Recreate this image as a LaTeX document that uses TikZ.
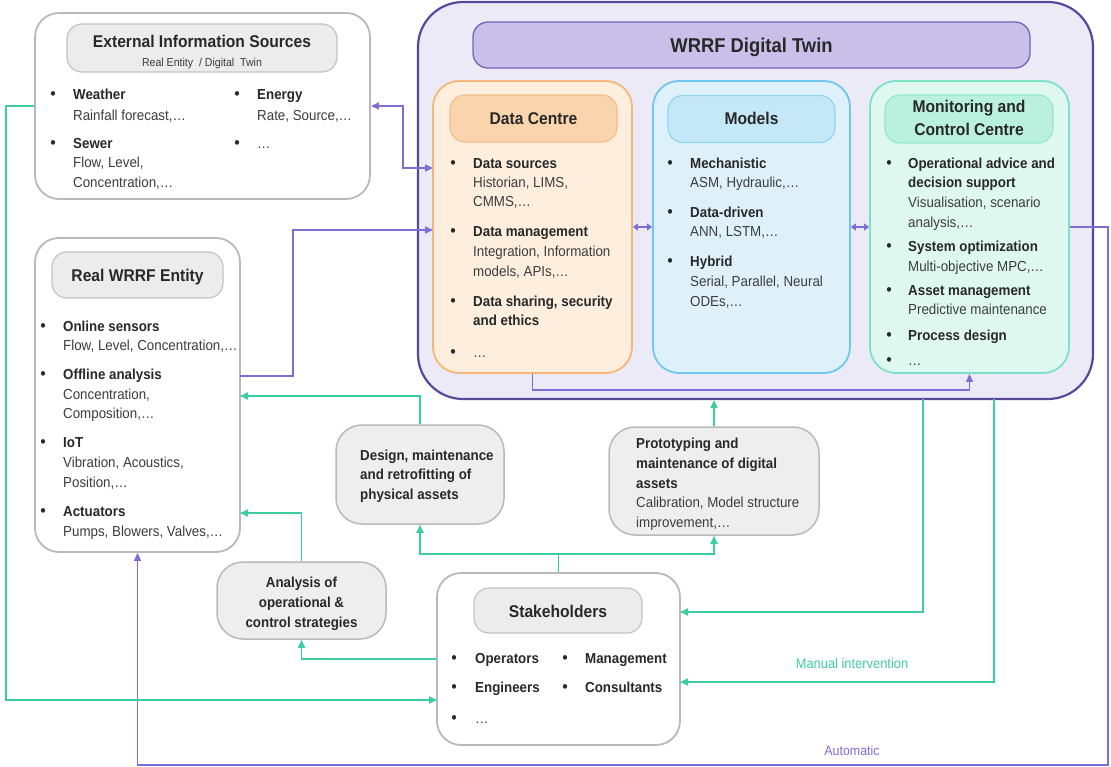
\documentclass[tikz,border=0pt]{standalone}
\usepackage{fontspec}
\setmainfont{Liberation Sans}[FakeStretch=0.92]
\usetikzlibrary{arrows.meta}
\definecolor{txtdark}{RGB}{40,40,40}
\definecolor{txtreg}{RGB}{60,60,60}
\definecolor{gborder}{RGB}{185,185,185}
\definecolor{ghborder}{RGB}{195,195,195}
\definecolor{ghfill}{RGB}{236,236,236}
\definecolor{gfillc}{RGB}{238,238,238}
\definecolor{twinB}{RGB}{88,72,155}
\definecolor{twinF}{RGB}{237,234,248}
\definecolor{twinHF}{RGB}{200,192,232}
\definecolor{twinHB}{RGB}{115,100,185}
\definecolor{dcB}{RGB}{245,183,120}
\definecolor{dcF}{RGB}{253,238,222}
\definecolor{dcHB}{RGB}{242,190,140}
\definecolor{dcHF}{RGB}{250,212,172}
\definecolor{mdB}{RGB}{110,200,238}
\definecolor{mdF}{RGB}{222,241,251}
\definecolor{mdHB}{RGB}{145,212,240}
\definecolor{mdHF}{RGB}{196,232,248}
\definecolor{mcB}{RGB}{125,225,200}
\definecolor{mcF}{RGB}{222,248,240}
\definecolor{mcHB}{RGB}{150,230,205}
\definecolor{mcHF}{RGB}{186,240,222}
\definecolor{purpleline}{RGB}{125,110,215}
\definecolor{greenline}{RGB}{60,205,160}
\newcounter{tn}
\newcommand\tl[4]{\stepcounter{tn}\node[#1] (t\arabic{tn}) at (#2,#3+5) {#4};}
\newcommand\bu[2]{\stepcounter{tn}\node[bul] (t\arabic{tn}) at (#1,#2+5) {\textbullet};}
\begin{document}
\begin{tikzpicture}[x=1pt,y=-1pt,
  >={Triangle[length=8pt,width=7pt]},
  gbox/.style={draw=gborder, line width=1.8pt, fill=white, rounded corners=24pt, inner sep=0pt},
  ghead/.style={draw=ghborder, line width=1.2pt, fill=ghfill, rounded corners=15pt, inner sep=0pt},
  gfbox/.style={draw=gborder, line width=1.5pt, fill=gfillc, rounded corners=26pt, inner sep=0pt},
  twinbox/.style={draw=twinB, line width=2.2pt, fill=twinF, rounded corners=45pt, inner sep=0pt},
  twinhead/.style={draw=twinHB, line width=1.3pt, fill=twinHF, rounded corners=15pt, inner sep=0pt},
  colbox/.style={line width=1.8pt, rounded corners=26pt, inner sep=0pt},
  headbox/.style={line width=1.2pt, rounded corners=15pt, inner sep=0pt},
  pconn/.style={draw=purpleline, line width=1.5pt},
  gconn/.style={draw=greenline, line width=1.8pt},
  b/.style={anchor=base west, inner sep=0pt, font=\fontsize{14.5}{17}\selectfont\bfseries, text=txtdark},
  r/.style={anchor=base west, inner sep=0pt, font=\fontsize{14.5}{17}\selectfont, text=txtreg},
  bc/.style={anchor=base, inner sep=0pt, font=\fontsize{14.5}{17}\selectfont\bfseries, text=txtdark},
  ttl/.style={anchor=base, inner sep=0pt, font=\fontsize{17}{20}\selectfont\bfseries, text=txtdark},
  bul/.style={anchor=base, inner sep=0pt, font=\fontsize{17}{17}\selectfont, text=txtdark}
]
\useasboundingbox (0,0) rectangle (1111,767);

% ---------- boxes ----------
\node[gbox, minimum width=335pt, minimum height=186pt] (ext) at (202.5,106) {};
\node[ghead, minimum width=270pt, minimum height=48pt] (extH) at (202,48) {};
\node[gbox, minimum width=205pt, minimum height=314pt] (real) at (137.5,395) {};
\node[ghead, minimum width=171pt, minimum height=46pt] (realH) at (137.5,275) {};
\node[twinbox, minimum width=675pt, minimum height=397pt] (twin) at (755.5,200.5) {};
\node[twinhead, minimum width=557pt, minimum height=46pt] (twinH) at (751.5,45) {};
\node[colbox, draw=dcB, fill=dcF, minimum width=199pt, minimum height=292pt] (dc) at (532.5,227) {};
\node[headbox, draw=dcHB, fill=dcHF, minimum width=167pt, minimum height=47pt] (dcH) at (533.5,118.5) {};
\node[colbox, draw=mdB, fill=mdF, minimum width=197pt, minimum height=292pt] (md) at (751.5,227) {};
\node[headbox, draw=mdHB, fill=mdHF, minimum width=167pt, minimum height=47pt] (mdH) at (751.5,119) {};
\node[colbox, draw=mcB, fill=mcF, minimum width=199pt, minimum height=292pt] (mc) at (969.5,227) {};
\node[headbox, draw=mcHB, fill=mcHF, minimum width=168pt, minimum height=48pt] (mcH) at (969,119) {};
\node[gfbox, minimum width=168pt, minimum height=99pt] (design) at (420,474.5) {};
\node[gfbox, minimum width=210pt, minimum height=108pt] (proto) at (714,481) {};
\node[gfbox, minimum width=169pt, minimum height=77pt] (anal) at (301.5,600.5) {};
\node[gbox, minimum width=243pt, minimum height=172pt] (stake) at (558.5,659) {};
\node[ghead, minimum width=168pt, minimum height=45pt] (stakeH) at (558,610.5) {};

% ---------- ports ----------
\coordinate (dcA) at (433,168);
\coordinate (realA) at (240,376);
\coordinate (dcB) at (433,230);
\coordinate (stA) at (437,700);
\coordinate (realB) at (240,513);
\coordinate (realC) at (240,396);
\coordinate (split) at (558.5,554);
\coordinate (m1) at (923,399);
\coordinate (m2) at (994,399);
\coordinate (stB) at (680,612);
\coordinate (stC) at (680,682);

% ---------- purple connectors ----------
\draw[pconn,<->] (ext.east) -| (403,168) -- (dcA);
\draw[pconn,->] (realA) -| (293,230) -- (dcB);
\draw[pconn,{Triangle[length=5pt,width=7pt]}-{Triangle[length=5pt,width=7pt]}] (dc.east) -- (md.west);
\draw[pconn,{Triangle[length=5pt,width=7pt]}-{Triangle[length=5pt,width=7pt]}] (md.east) -- (mc.west);
\draw[pconn,->] (dc.south) -- ++(0,16) -| (mc.south);
\draw[pconn,->] (mc.east) -- (1108,227) -- (1108,765) -| (real.south);
\node[anchor=base, inner sep=0pt, font=\fontsize{13.5}{16}\selectfont, text=purpleline] (autolbl) at (852,755) {Automatic};

% ---------- green connectors ----------
\draw[gconn,->] (ext.west) -| (6,700) -- (stA);
\draw[gconn,->] (stake.west) -| (anal.south);
\draw[gconn,->] (anal.north) |- (realB);
\draw[gconn,->] (design.north) |- (realC);
\draw[gconn,->] (stake.north) -- (split) -| (design.south);
\draw[gconn,->] (split) -| (proto.south);
\draw[gconn,->] (proto.north) -- (proto.north |- twin.south);
\draw[gconn,->] (m1) |- (stB);
\draw[gconn,->] (m2) |- (stC);
\node[anchor=base, inner sep=0pt, font=\fontsize{14}{16}\selectfont, text=greenline] (manlbl) at (852,668) {Manual intervention};

% ---------- External Information Sources ----------
\tl{ttl}{202}{43}{External Information Sources}
\node[anchor=base, inner sep=0pt, font=\fontsize{11.5}{13}\selectfont, text=txtreg] (extsub) at (202,67) {Real Entity~ / Digital~ Twin};
\bu{53}{95}\bu{53}{144}\bu{237}{95}\bu{237}{144}
\tl{b}{73}{95}{Weather}
\tl{r}{73}{116}{Rainfall forecast,…}
\tl{b}{73}{144}{Sewer}
\tl{r}{73}{163}{Flow, Level,}
\tl{r}{73}{183}{Concentration,…}
\tl{b}{257}{95}{Energy}
\tl{r}{257}{116}{Rate, Source,…}
\tl{r}{257}{144}{…}

% ---------- Real WRRF Entity ----------
\tl{ttl}{137.5}{277}{Real WRRF Entity}
\bu{43}{326}\bu{43}{374}\bu{43}{442}\bu{43}{511}
\tl{b}{63}{326}{Online sensors}
\tl{r}{63}{345}{Flow, Level, Concentration,…}
\tl{b}{63}{374}{Offline analysis}
\tl{r}{63}{394}{Concentration,}
\tl{r}{63}{413}{Composition,…}
\tl{b}{63}{442}{IoT}
\tl{r}{63}{462}{Vibration, Acoustics,}
\tl{r}{63}{482}{Position,…}
\tl{b}{63}{511}{Actuators}
\tl{r}{63}{531}{Pumps, Blowers, Valves,…}

% ---------- WRRF Digital Twin ----------
\node[anchor=base, inner sep=0pt, font=\fontsize{20}{24}\selectfont\bfseries, text=txtdark] (twintitle) at (751.5,53) {WRRF Digital Twin};

% Data Centre
\tl{ttl}{533.5}{120}{Data Centre}
\bu{453}{164}\bu{453}{232}\bu{453}{302}\bu{453}{352}
\tl{b}{473}{164}{Data sources}
\tl{r}{473}{183}{Historian, LIMS,}
\tl{r}{473}{202}{CMMS,…}
\tl{b}{473}{232}{Data management}
\tl{r}{473}{252}{Integration, Information}
\tl{r}{473}{272}{models, APIs,…}
\tl{b}{473}{302}{Data sharing, security}
\tl{b}{473}{321}{and ethics}
\tl{r}{473}{352}{…}

% Models
\tl{ttl}{751.5}{120}{Models}
\bu{670}{164}\bu{670}{213}\bu{670}{262}
\tl{b}{690}{164}{Mechanistic}
\tl{r}{690}{183}{ASM, Hydraulic,…}
\tl{b}{690}{213}{Data-driven}
\tl{r}{690}{232}{ANN, LSTM,…}
\tl{b}{690}{262}{Hybrid}
\tl{r}{690}{282}{Serial, Parallel, Neural}
\tl{r}{690}{302}{ODEs,…}

% Monitoring and Control Centre
\tl{ttl}{969}{108}{Monitoring and}
\tl{ttl}{969}{131}{Control Centre}
\bu{889}{164}\bu{889}{247}\bu{889}{291}\bu{889}{335}\bu{889}{360}
\tl{b}{908}{164}{Operational advice and}
\tl{b}{908}{183}{decision support}
\tl{r}{908}{203}{Visualisation, scenario}
\tl{r}{908}{223}{analysis,…}
\tl{b}{908}{247}{System optimization}
\tl{r}{908}{267}{Multi-objective MPC,…}
\tl{b}{908}{291}{Asset management}
\tl{r}{908}{310}{Predictive maintenance}
\tl{b}{908}{335}{Process design}
\tl{r}{908}{360}{…}

% ---------- middle boxes ----------
\tl{b}{360}{455}{Design, maintenance}
\tl{b}{360}{474}{and retrofitting of}
\tl{b}{360}{494}{physical assets}

\tl{b}{636}{443}{Prototyping and}
\tl{b}{636}{463}{maintenance of digital}
\tl{b}{636}{483}{assets}
\tl{r}{636}{502}{Calibration, Model structure}
\tl{r}{636}{522}{improvement,…}

\tl{bc}{301.5}{582}{Analysis of}
\tl{bc}{301.5}{602}{operational \&}
\tl{bc}{301.5}{622}{control strategies}

% ---------- Stakeholders ----------
\tl{ttl}{558}{612}{Stakeholders}
\bu{454}{658}\bu{454}{687}\bu{454}{718}\bu{565}{658}\bu{565}{687}
\tl{b}{475}{658}{Operators}
\tl{b}{475}{687}{Engineers}
\tl{r}{475}{718}{…}
\tl{b}{585}{658}{Management}
\tl{b}{585}{687}{Consultants}
\end{tikzpicture}
\end{document}
